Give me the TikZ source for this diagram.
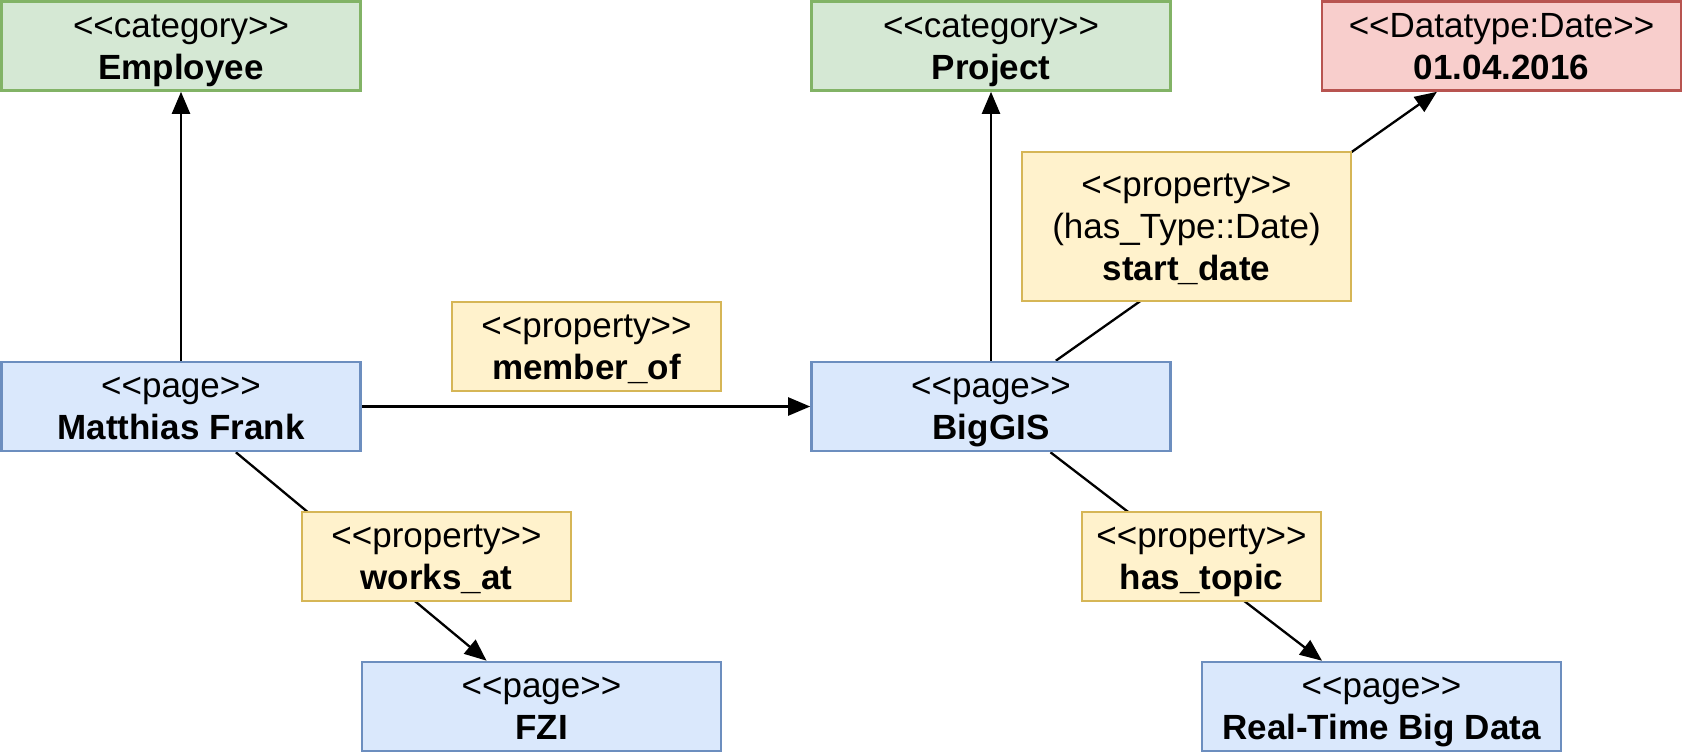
\documentclass[tikz,border=0pt]{standalone}
\usepackage{fontspec}
\newfontfamily\lsans{Liberation Sans}
\usetikzlibrary{arrows.meta,backgrounds}
\definecolor{gfill}{HTML}{D5E8D4}\definecolor{gdraw}{HTML}{82B366}
\definecolor{bfill}{HTML}{DAE8FC}\definecolor{bdraw}{HTML}{6C8EBF}
\definecolor{yfill}{HTML}{FFF2CC}\definecolor{ydraw}{HTML}{D6B656}
\definecolor{rfill}{HTML}{F8CECC}\definecolor{rdraw}{HTML}{B85450}
\newcommand{\mystrut}{\rule[-9pt]{0pt}{42pt}}
\newcommand{\twol}[2]{\mystrut#1\\\mystrut\bfseries #2}
\begin{document}
\begin{tikzpicture}[x=1pt,y=-1pt,
  box/.style={rectangle, draw, line width=2.6pt, inner sep=0pt, align=center,
    font=\lsans\fontsize{35pt}{42pt}\selectfont, minimum height=89pt},
  catbox/.style={box, fill=gfill, draw=gdraw, minimum width=359pt},
  pagebox/.style={box, fill=bfill, draw=bdraw, minimum width=359pt},
  propbox/.style={box, fill=yfill, draw=ydraw},
  dtbox/.style={box, fill=rfill, draw=rdraw, minimum width=359pt},
  conn/.style={line width=2.3pt, draw=black},
  arr/.style={conn, -{Triangle[length=22pt,width=18pt]}}]
\useasboundingbox (0,0) rectangle (1683,753);
\node[catbox] (emp) at (181,46) {\twol{<<category>>}{Employee}};
\node[catbox] (proj) at (991,46) {\twol{<<category>>}{Project}};
\node[dtbox] (dt) at (1501.5,46) {\twol{<<Datatype:Date>>}{01.04.2016}};
\node[pagebox] (mf) at (181,406.5) {\twol{<<page>>}{Matthias Frank}};
\node[pagebox] (big) at (991,406.5) {\twol{<<page>>}{BigGIS}};
\node[pagebox] (fzi) at (541.5,706.5) {\twol{<<page>>}{FZI}};
\node[pagebox] (rt) at (1381.5,706.5) {\twol{<<page>>}{Real-Time Big Data}};
\node[propbox, minimum width=269pt] (mo) at (586.5,346.5) {\twol{<<property>>}{member\_of}};
\node[propbox, minimum width=269pt] (wa) at (436.5,556.5) {\twol{<<property>>}{works\_at}};
\node[propbox, minimum width=239pt] (ht) at (1201.5,556.5) {\twol{<<property>>}{has\_topic}};
\node[propbox, minimum width=329pt, minimum height=149pt] (sd) at (1186.5,226.5)
  {\mystrut<<property>>\\\mystrut(has\_Type::Date)\\\mystrut\bfseries start\_date};
\begin{scope}[on background layer]
\draw[arr] (mf) -- (emp);
\draw[arr] (big) -- (proj);
\draw[arr] (mf) -- (big);
\draw[arr] (mf) -- (fzi);
\draw[arr] (big) -- (dt);
\draw[arr] (big) -- (rt);
\end{scope}
\end{tikzpicture}
\end{document}
